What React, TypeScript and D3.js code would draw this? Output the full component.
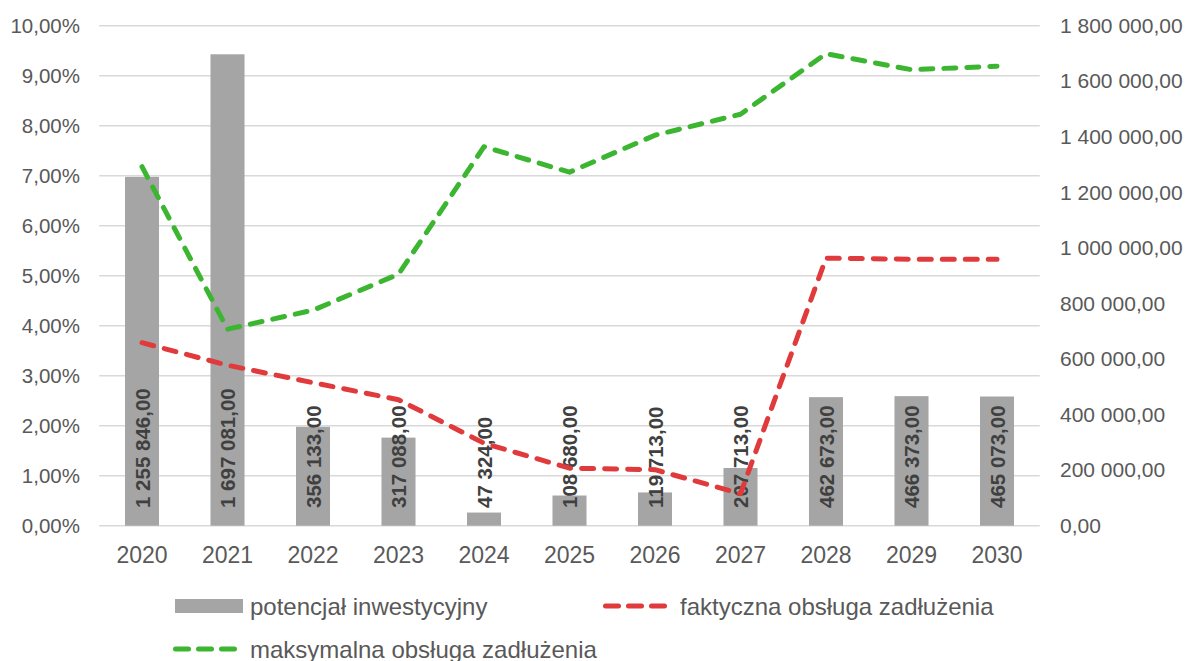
import React, { useEffect, useRef } from "react";
import * as d3 from "d3";

// dane z wykresu
const years = ["2020", "2021", "2022", "2023", "2024", "2025", "2026", "2027", "2028", "2029", "2030"];
const potencjal = [1255846, 1697081, 356133, 317088, 47324, 108680, 119713, 207713, 462673, 466373, 465073];
const faktyczna = [0.0366, 0.0321, 0.0286, 0.0252, 0.0165, 0.0115, 0.0112, 0.0064, 0.0535, 0.0533, 0.0533];
const maksymalna = [0.0718, 0.0393, 0.0431, 0.0503, 0.0758, 0.0707, 0.0781, 0.0823, 0.0944, 0.0912, 0.0919];
const leftTicks = [0, 0.01, 0.02, 0.03, 0.04, 0.05, 0.06, 0.07, 0.08, 0.09, 0.1];
const rightTicks = [0, 200000, 400000, 600000, 800000, 1000000, 1200000, 1400000, 1600000, 1800000];

const W = 1187;
const H = 661;
const FONT = "'Liberation Sans', Arial, sans-serif";

const pl = d3.formatLocale({ decimal: ",", thousands: " ", grouping: [3], currency: ["", " zł"] });
const fmtNum = pl.format(",.2f");
const fmtPct = pl.format(".2%");

function App() {
  const svgRef = useRef<SVGSVGElement>(null);

  useEffect(() => {
    const svg = d3.select(svgRef.current);
    svg.selectAll("*").remove();

    const x = d3.scaleBand().domain(years).range([99.25, 1039.75]).paddingInner(0.602).paddingOuter(0.301);
    const yL = d3.scaleLinear().domain([0, 0.1]).range([525.7, 25.7]);
    const yR = d3.scaleLinear().domain([0, 1800000]).range([525.7, 25.7]);
    const cx = (d: string) => (x(d) as number) + x.bandwidth() / 2;

    // siatka
    svg.append("g")
      .selectAll("line")
      .data(leftTicks)
      .join("line")
      .attr("x1", 99.25)
      .attr("x2", 1039.75)
      .attr("y1", d => yL(d))
      .attr("y2", d => yL(d))
      .attr("stroke", "#d9d9d9")
      .attr("stroke-width", 1.4);

    // osie
    const axL = svg.append("g").attr("transform", "translate(80,0)")
      .call(d3.axisLeft(yL).tickValues(leftTicks).tickFormat(d => fmtPct(d as number)).tickSize(0).tickPadding(0));
    const axR = svg.append("g").attr("transform", "translate(1060,0)")
      .call(d3.axisRight(yR).tickValues(rightTicks).tickFormat(d => fmtNum(d as number)).tickSize(0).tickPadding(0));
    const axB = svg.append("g").attr("transform", "translate(0,547)")
      .call(d3.axisBottom(x).tickSize(0).tickPadding(0));
    [axL, axR, axB].forEach(a => {
      a.select(".domain").remove();
      a.selectAll("text").attr("fill", "#595959").attr("font-family", FONT);
    });
    axL.selectAll("text").attr("font-size", 20.5);
    axR.selectAll("text").attr("font-size", 21);
    axB.selectAll("text").attr("font-size", 23);

    // słupki
    svg.append("g")
      .selectAll("rect")
      .data(potencjal)
      .join("rect")
      .attr("x", (d, i) => x(years[i]) as number)
      .attr("width", x.bandwidth())
      .attr("y", d => yR(d))
      .attr("height", d => yR(0) - yR(d))
      .attr("fill", "#a5a5a5");

    // etykiety
    svg.append("g")
      .selectAll("text")
      .data(potencjal)
      .join("text")
      .attr("transform", (d, i) => `translate(${cx(years[i]) + 7.5},508) rotate(-90)`)
      .attr("font-family", FONT)
      .attr("font-size", 20.5)
      .attr("font-weight", "bold")
      .attr("fill", "#404040")
      .text(d => fmtNum(d));

    // linie
    const line = d3.line<number>().x((d, i) => cx(years[i])).y(d => yL(d));
    const series: [number[], string][] = [
      [maksymalna, "#3cb531"],
      [faktyczna, "#e03a3c"],
    ];
    series.forEach(([data, color]) => {
      svg.append("path")
        .datum(data)
        .attr("d", line)
        .attr("fill", "none")
        .attr("stroke", color)
        .attr("stroke-width", 5)
        .attr("stroke-linecap", "round")
        .attr("stroke-linejoin", "round")
        .attr("stroke-dasharray", "12 11");
    });

    // legenda
    const leg = svg.append("g").attr("font-family", FONT).attr("font-size", 24).attr("fill", "#595959");
    leg.append("rect").attr("x", 175).attr("y", 599).attr("width", 68).attr("height", 14).attr("fill", "#a5a5a5");
    leg.append("text").attr("x", 250).attr("y", 614.5).text("potencjał inwestycyjny");
    const legItems: [number, number, string, string][] = [
      [605.5, 606, "#e03a3c", "faktyczna obsługa zadłużenia"],
      [175.5, 649, "#3cb531", "maksymalna obsługa zadłużenia"],
    ];
    legItems.forEach(([lx, ly, color, label]) => {
      leg.append("line")
        .attr("x1", lx).attr("x2", lx + 59).attr("y1", ly).attr("y2", ly)
        .attr("stroke", color).attr("stroke-width", 5)
        .attr("stroke-linecap", "round").attr("stroke-dasharray", "13 10");
      leg.append("text").attr("x", lx + 74.5).attr("y", ly + 8.5).text(label);
    });
  }, []);

  return (
    <div style={{ position: "absolute", left: 0, top: 0 }}>
      <svg ref={svgRef} width={W} height={H} style={{ display: "block", background: "#fff" }} />
    </div>
  );
}

export default App;
